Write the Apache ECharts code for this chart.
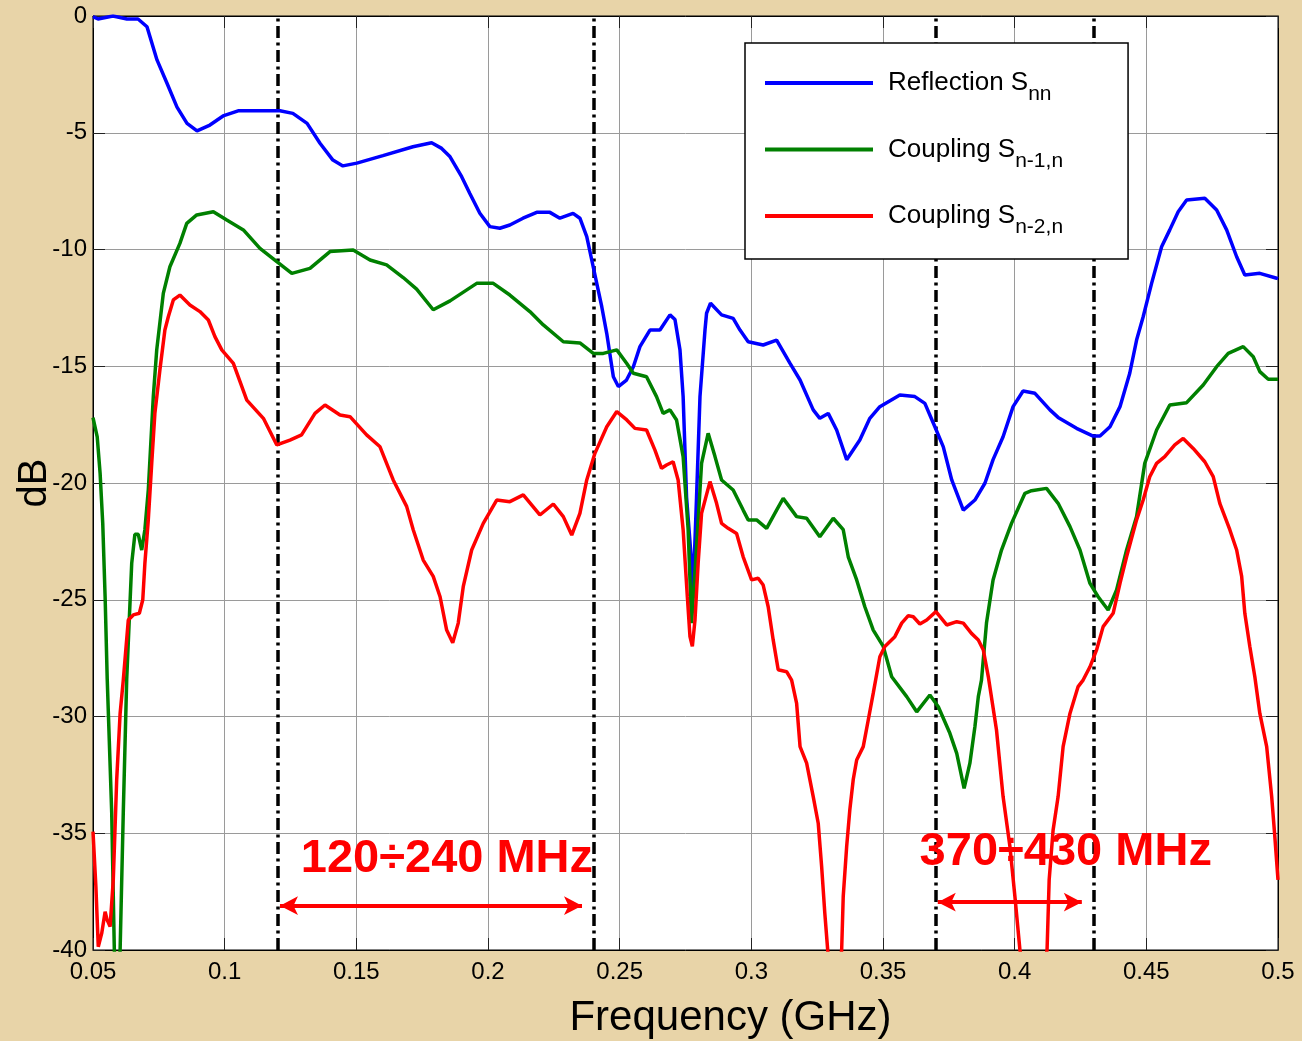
<!DOCTYPE html>
<html>
<head>
<meta charset="utf-8">
<script src="https://cdn.jsdelivr.net/npm/echarts@6/dist/echarts.min.js"></script>
<style>
html,body{margin:0;padding:0;width:1302px;height:1041px;overflow:hidden;}
body{background:#E8D4A8;}
#c{width:1302px;height:1041px;}
</style>
</head>
<body>
<div id="c"></div>
<script>
// ---- data ----
const reflFreq = [0.0500,0.0519,0.0576,0.0629,0.0671,0.0705,0.0743,0.0781,0.0819,0.0857,0.0895,0.0944,0.0994,0.1051,0.1210,0.1259,0.1313,0.1362,0.1411,0.1449,0.1502,0.1601,0.1715,0.1786,0.1824,0.1856,0.1900,0.1931,0.1969,0.2007,0.2045,0.2083,0.2133,0.2185,0.2235,0.2273,0.2323,0.2349,0.2375,0.2394,0.2413,0.2432,0.2451,0.2476,0.2495,0.2526,0.2552,0.2577,0.2615,0.2653,0.2691,0.2710,0.2729,0.2741,0.2754,0.2773,0.2778,0.2792,0.2805,0.2824,0.2830,0.2845,0.2887,0.2931,0.2957,0.2988,0.3045,0.3096,0.3147,0.3185,0.3235,0.3260,0.3292,0.3324,0.3362,0.3412,0.3450,0.3488,0.3564,0.3621,0.3659,0.3697,0.3729,0.3761,0.3805,0.3849,0.3887,0.3918,0.3956,0.3994,0.4032,0.4077,0.4134,0.4165,0.4235,0.4298,0.4324,0.4362,0.4400,0.4437,0.4463,0.4488,0.4520,0.4558,0.4589,0.4621,0.4653,0.4722,0.4767,0.4805,0.4843,0.4874,0.4931,0.4995,0.5000];
const reflDb = [-0.03,-0.13,0.0,-0.13,-0.13,-0.46,-1.88,-2.88,-3.9,-4.6,-4.92,-4.67,-4.28,-4.06,-4.06,-4.17,-4.6,-5.45,-6.17,-6.42,-6.3,-5.98,-5.6,-5.43,-5.67,-6.03,-6.88,-7.6,-8.45,-9.02,-9.09,-8.95,-8.66,-8.41,-8.41,-8.66,-8.45,-8.66,-9.45,-10.45,-11.45,-12.45,-13.6,-15.45,-15.87,-15.59,-15.02,-14.16,-13.45,-13.45,-12.8,-13.0,-14.3,-16.3,-20.6,-23.4,-24.9,-20.6,-16.3,-13.45,-12.73,-12.3,-12.8,-12.95,-13.45,-13.95,-14.09,-13.88,-14.88,-15.59,-16.87,-17.23,-17.02,-17.73,-19.0,-18.16,-17.23,-16.73,-16.23,-16.3,-16.59,-17.59,-18.45,-19.87,-21.16,-20.73,-20.01,-19.0,-18.02,-16.73,-16.06,-16.16,-16.87,-17.19,-17.66,-17.99,-17.99,-17.59,-16.73,-15.3,-13.88,-12.88,-11.45,-9.88,-9.16,-8.38,-7.88,-7.81,-8.31,-9.16,-10.31,-11.09,-11.02,-11.23,-11.25];

const coup1Freq = [0.0500,0.0516,0.0527,0.0537,0.0546,0.0554,0.0571,0.0581,0.0590,0.0603,0.0615,0.0628,0.0647,0.0659,0.0672,0.0685,0.0697,0.0710,0.0729,0.0742,0.0767,0.0792,0.0830,0.0856,0.0894,0.0957,0.1008,0.1071,0.1134,0.1198,0.1255,0.1324,0.1400,0.1488,0.1552,0.1615,0.1678,0.1729,0.1792,0.1856,0.1957,0.2020,0.2083,0.2159,0.2210,0.2286,0.2349,0.2400,0.2438,0.2489,0.2527,0.2552,0.2602,0.2640,0.2665,0.2691,0.2716,0.2741,0.2760,0.2773,0.2792,0.2811,0.2836,0.2862,0.2887,0.2931,0.2969,0.2988,0.3020,0.3058,0.3096,0.3121,0.3172,0.3210,0.3260,0.3311,0.3349,0.3368,0.3400,0.3431,0.3463,0.3501,0.3533,0.3590,0.3628,0.3678,0.3710,0.3754,0.3780,0.3808,0.3830,0.3849,0.3862,0.3874,0.3893,0.3918,0.3950,0.3988,0.4039,0.4064,0.4121,0.4165,0.4210,0.4248,0.4286,0.4317,0.4355,0.4387,0.4425,0.4463,0.4494,0.4539,0.4589,0.4653,0.4716,0.4767,0.4811,0.4868,0.4906,0.4931,0.4963,0.5000];
const coup1Db = [-17.2,-18.02,-19.59,-21.73,-24.87,-28.4,-34.1,-40,-43,-40,-34.1,-28.4,-23.44,-22.2,-22.2,-22.87,-22.0,-20.3,-16.3,-14.3,-11.88,-10.74,-9.74,-8.88,-8.52,-8.38,-8.74,-9.16,-9.95,-10.52,-11.02,-10.81,-10.09,-10.02,-10.45,-10.66,-11.2,-11.7,-12.58,-12.2,-11.45,-11.45,-11.95,-12.66,-13.23,-13.95,-14.0,-14.45,-14.45,-14.3,-14.88,-15.3,-15.45,-16.3,-17.02,-16.87,-17.3,-18.87,-22.0,-26.0,-22.73,-19.16,-17.87,-18.87,-19.87,-20.3,-21.16,-21.58,-21.58,-21.94,-21.16,-20.66,-21.44,-21.51,-22.3,-21.51,-22.0,-23.16,-24.15,-25.3,-26.3,-27.0,-28.3,-29.15,-29.8,-29.08,-29.58,-30.72,-31.58,-33.08,-32.0,-30.44,-29.15,-28.44,-26.0,-24.15,-22.87,-21.73,-20.44,-20.33,-20.23,-20.87,-21.87,-22.87,-24.3,-24.87,-25.44,-24.58,-22.87,-21.44,-19.16,-17.73,-16.66,-16.56,-15.8,-15.02,-14.45,-14.16,-14.59,-15.23,-15.56,-15.56];

const coup2Freq = [0.0500,0.0511,0.0516,0.0520,0.0533,0.0546,0.0554,0.0565,0.0577,0.0590,0.0603,0.0615,0.0634,0.0653,0.0676,0.0689,0.0697,0.0710,0.0723,0.0735,0.0754,0.0773,0.0786,0.0805,0.0830,0.0868,0.0906,0.0938,0.0963,0.0989,0.1033,0.1084,0.1147,0.1198,0.1248,0.1292,0.1343,0.1381,0.1438,0.1476,0.1539,0.1590,0.1640,0.1691,0.1716,0.1754,0.1792,0.1818,0.1843,0.1866,0.1887,0.1906,0.1938,0.1982,0.2033,0.2083,0.2134,0.2197,0.2248,0.2286,0.2318,0.2349,0.2375,0.2406,0.2451,0.2489,0.2527,0.2558,0.2602,0.2634,0.2659,0.2678,0.2703,0.2722,0.2741,0.2757,0.2767,0.2776,0.2786,0.2798,0.2811,0.2843,0.2868,0.2887,0.2912,0.2944,0.2969,0.3001,0.3026,0.3045,0.3064,0.3083,0.3102,0.3134,0.3153,0.3172,0.3185,0.3210,0.3235,0.3254,0.3267,0.3279,0.3290,0.3316,0.3343,0.3349,0.3362,0.3374,0.3387,0.3400,0.3425,0.3444,0.3463,0.3488,0.3507,0.3545,0.3571,0.3596,0.3615,0.3640,0.3666,0.3701,0.3742,0.3780,0.3805,0.3836,0.3862,0.3881,0.3900,0.3931,0.3956,0.3982,0.4001,0.4020,0.4074,0.4123,0.4131,0.4146,0.4165,0.4184,0.4210,0.4241,0.4260,0.4286,0.4311,0.4336,0.4374,0.4400,0.4425,0.4463,0.4488,0.4513,0.4539,0.4570,0.4608,0.4640,0.4678,0.4722,0.4754,0.4779,0.4817,0.4843,0.4862,0.4874,0.4893,0.4912,0.4931,0.4957,0.4976,0.4988,0.5000];
const coup2Db = [-34.93,-37.29,-38.72,-39.86,-39.29,-38.36,-38.72,-39.0,-37.0,-32.7,-29.87,-28.44,-25.87,-25.65,-25.58,-25.0,-23.44,-21.58,-19.16,-17.02,-15.16,-13.45,-12.88,-12.16,-11.95,-12.38,-12.66,-13.02,-13.73,-14.3,-14.88,-16.45,-17.23,-18.37,-18.16,-17.94,-17.02,-16.66,-17.09,-17.16,-17.94,-18.45,-19.87,-21.0,-22.0,-23.3,-24.0,-24.87,-26.3,-26.84,-26.0,-24.44,-22.87,-21.73,-20.73,-20.8,-20.51,-21.37,-20.9,-21.44,-22.23,-21.3,-19.87,-18.73,-17.59,-16.94,-17.3,-17.66,-17.73,-18.59,-19.37,-19.23,-19.09,-19.87,-22.0,-24.87,-26.58,-27.0,-25.87,-23.44,-21.3,-19.94,-20.87,-21.73,-21.94,-22.16,-23.16,-24.15,-24.08,-24.37,-25.3,-26.72,-28.0,-28.08,-28.44,-29.44,-31.29,-32.0,-33.43,-34.57,-36.43,-38.42,-40,-43,-40,-37.7,-35.57,-34.0,-32.7,-31.86,-31.29,-30.15,-29.0,-27.44,-27.0,-26.58,-26.0,-25.68,-25.73,-26.04,-25.87,-25.51,-26.08,-25.94,-26.0,-26.44,-26.72,-27.15,-28.3,-30.58,-33.43,-35.57,-37.72,-40,-43,-40,-37.0,-34.86,-33.43,-31.29,-29.87,-28.72,-28.44,-27.87,-27.15,-26.15,-25.58,-24.3,-23.16,-21.58,-20.73,-19.73,-19.16,-18.87,-18.37,-18.09,-18.52,-19.09,-19.73,-20.87,-22.0,-22.87,-24.0,-25.58,-27.0,-28.3,-29.87,-31.29,-33.43,-35.15,-37.0];

const bandEdges = [0.12, 0.24, 0.37, 0.43];           // GHz, dash-dot markers
const bandLabels = ['120÷240 MHz', '370÷430 MHz'];
const bandLabelPos = [[0.1844, -36.1], [0.4194, -35.8]];
const bandArrows = [[0.1210, 0.2357, -38.1], [0.3708, 0.4255, -37.95]];
const seriesNames = ['Reflection', 'Coupling1', 'Coupling2'];
const legendText = {
  'Reflection': '{g| }{a|Reflection S}{s|nn}',
  'Coupling1': '{g| }{a|Coupling S}{s|n-1,n}',
  'Coupling2': '{g| }{a|Coupling S}{s|n-2,n}'
};

const zip = (f, d) => f.map((x, i) => [x, d[i]]);
const FONT = 'Liberation Sans, Arial, Helvetica, sans-serif';

const chart = echarts.init(document.getElementById('c'), null, {renderer: 'canvas'});

const axisCommon = {
  type: 'value',
  axisLine: {show: true, onZero: false, lineStyle: {color: '#000', width: 1}},
  axisTick: {show: true, inside: true, length: 12, lineStyle: {color: '#222', width: 1}},
};

const option = {
  animation: false,
  backgroundColor: 'transparent',
  grid: {left: 93, top: 16, right: 24, bottom: 91, containLabel: false, outerBoundsMode: 'none',
         show: true, backgroundColor: '#fff', borderColor: '#000', borderWidth: 1},
  legend: {
    data: seriesNames, z: 50,
    orient: 'vertical', left: 745, top: 43,
    padding: [27, 65, 21, 20], itemGap: 31.5,
    itemWidth: 108, itemHeight: 4, icon: 'rect',
    backgroundColor: '#fff', borderColor: '#000', borderWidth: 1.5,
    selectedMode: false,
    formatter: n => legendText[n],
    textStyle: {
      color: '#000', fontFamily: FONT,
      rich: {
        g: {width: 10, fontSize: 26, lineHeight: 26, verticalAlign: 'top'},
        a: {fontSize: 26, lineHeight: 26, fontFamily: FONT, color: '#000', verticalAlign: 'top'},
        s: {fontSize: 21, lineHeight: 21, fontFamily: FONT, color: '#000', padding: [14, 0, 0, 0], verticalAlign: 'top'}
      }
    }
  },
  xAxis: [
    Object.assign({}, axisCommon, {
      min: 0.05, max: 0.5, interval: 0.05, position: 'bottom',
      name: 'Frequency (GHz)', nameLocation: 'middle', nameGap: 47, nameMoveOverlap: false,
      nameTextStyle: {fontSize: 42, fontFamily: FONT, color: '#000', padding: [0, 0, 0, 90]},
      axisLabel: {fontSize: 24, fontFamily: FONT, color: '#000', margin: 10, formatter: v => String(+v.toFixed(2))},
      splitLine: {show: true, lineStyle: {color: '#9a9a9a', width: 1}}
    }),
    Object.assign({}, axisCommon, {
      min: 0.05, max: 0.5, interval: 0.05, position: 'top',
      axisLabel: {show: false}, splitLine: {show: false}
    })
  ],
  yAxis: [
    Object.assign({}, axisCommon, {
      min: -40, max: 0, interval: 5, position: 'left',
      name: 'dB', nameLocation: 'middle', nameGap: 38, nameRotate: 90, nameMoveOverlap: false,
      nameTextStyle: {fontSize: 40, fontFamily: FONT, color: '#000'},
      axisLabel: {fontSize: 24, fontFamily: FONT, color: '#000', margin: 6},
      splitLine: {show: true, lineStyle: {color: '#9a9a9a', width: 1}}
    }),
    Object.assign({}, axisCommon, {
      min: -40, max: 0, interval: 5, position: 'right',
      axisLabel: {show: false}, splitLine: {show: false}
    })
  ],
  series: [
    {
      name: 'Reflection', type: 'line', data: zip(reflFreq, reflDb),
      showSymbol: false, symbol: 'none', clip: true, z: 3,
      lineStyle: {color: '#0000FF', width: 3.5}, itemStyle: {color: '#0000FF'}
    },
    {
      name: 'Coupling1', type: 'line', data: zip(coup1Freq, coup1Db),
      showSymbol: false, symbol: 'none', clip: true, z: 3,
      lineStyle: {color: '#008000', width: 3.5}, itemStyle: {color: '#008000'}
    },
    {
      name: 'Coupling2', type: 'line', data: zip(coup2Freq, coup2Db),
      showSymbol: false, symbol: 'none', clip: true, z: 3,
      lineStyle: {color: '#FF0000', width: 3.5}, itemStyle: {color: '#FF0000'}
    },
    {
      name: 'guides', type: 'line', data: [], z: 1,
      markLine: {
        silent: true, symbol: 'none', animation: false, z: 1,
        label: {show: false},
        lineStyle: {color: '#000', width: 3.5, type: [12, 4.5, 3, 4.5]},
        data: bandEdges.map(v => ({xAxis: v}))
      }
    },
    {
      name: 'bands', type: 'line', data: [], z: 5,
      markLine: {
        silent: true, animation: false, z: 5,
        symbol: ['arrow', 'arrow'], symbolSize: [14, 18],
        label: {show: false},
        lineStyle: {color: '#FF0000', width: 4, type: 'solid'},
        data: bandArrows.map(a => [{coord: [a[0], a[2]]}, {coord: [a[1], a[2]]}])
      },
      markPoint: {
        silent: true, animation: false, z: 6,
        symbol: 'rect', symbolSize: 1,
        itemStyle: {color: 'rgba(0,0,0,0)'},
        label: {show: true, position: 'inside', color: '#FF0000', fontSize: 47, fontWeight: 'bold', fontFamily: FONT},
        data: bandLabels.map((t, i) => ({coord: bandLabelPos[i], value: t, label: {formatter: t}}))
      }
    }
  ]
};
chart.setOption(option);
</script>
</body>
</html>
